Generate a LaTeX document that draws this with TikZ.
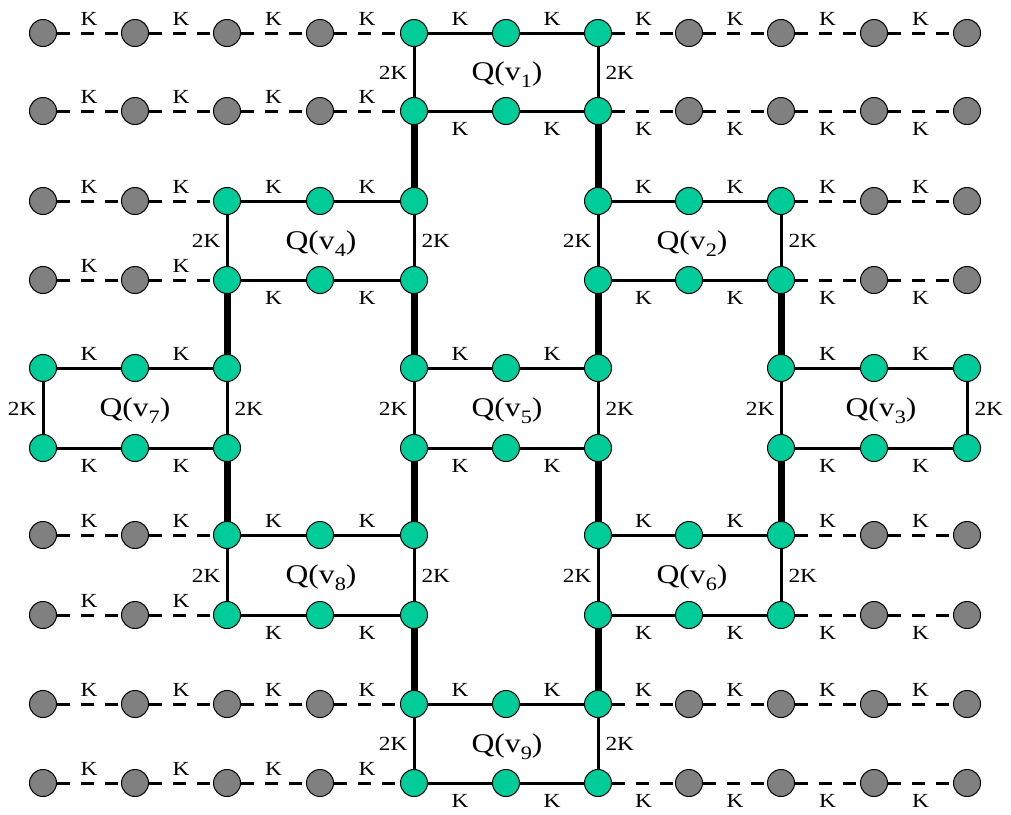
\documentclass[tikz,border=0pt]{standalone}
\usepackage{fontspec}
\setmainfont{Liberation Serif}
\usepackage{graphicx}
\usetikzlibrary{backgrounds}
\definecolor{qgreen}{RGB}{0,204,153}
\definecolor{dgray}{RGB}{128,128,128}
\newcommand\widetext[1]{\scalebox{1.17}[1]{#1}}
\newcommand\qtext[1]{\widetext{Q(v\raisebox{-7pt}{\fontsize{19}{19}\selectfont #1})}}
\begin{document}
\begin{tikzpicture}[x=1pt,y=-1pt,
  vtx/.style={circle, draw=black, line width=1pt, minimum size=27pt, inner sep=0pt},
  gv/.style={vtx, fill=qgreen},
  yv/.style={vtx, fill=dgray},
  sedge/.style={line width=3pt},
  dedge/.style={line width=3pt, dash pattern=on 13pt off 11pt},
  tedge/.style={line width=7pt},
  kfont/.style={font=\fontsize{20}{24}\selectfont, inner sep=0pt},
  kup/.style={kfont, midway, anchor=base, yshift=8pt},
  kdn/.style={kfont, midway, anchor=base, yshift=-24.5pt},
  kl/.style={kfont, midway, anchor=base east, xshift=-5pt, yshift=-7pt},
  kr/.style={kfont, midway, anchor=base west, xshift=6pt, yshift=-7pt},
  qlab/.style={font=\fontsize{27}{30}\selectfont, inner sep=0pt, anchor=base},
]
\useasboundingbox (0,0) rectangle (1011,814);
% grid positions
\foreach \r/\y in {0/33,1/111,2/201,3/280,4/368,5/448,6/535,7/615,8/704,9/783}
  \foreach \c/\x in {0/43,1/135,2/227,3/320,4/414,5/506,6/598,7/689,8/781,9/874,10/967}
    \coordinate (p\r-\c) at (\x,\y);
% vertices
\foreach \r in {0,1,8,9} {
  \foreach \c in {0,1,2,3,7,8,9,10} \node[yv] (n\r-\c) at (p\r-\c) {};
  \foreach \c in {4,5,6} \node[gv] (n\r-\c) at (p\r-\c) {};
}
\foreach \r in {2,3,6,7} {
  \foreach \c in {0,1,9,10} \node[yv] (n\r-\c) at (p\r-\c) {};
  \foreach \c in {2,3,4,6,7,8} \node[gv] (n\r-\c) at (p\r-\c) {};
}
\foreach \r in {4,5} {
  \foreach \c in {0,1,2,4,5,6,8,9,10} \node[gv] (n\r-\c) at (p\r-\c) {};
}
\begin{pgfonlayer}{background}
\fill[white] (0,0) rectangle (1011,814);
% horizontal edges, rows 0,1,8,9
\foreach \r/\pa/\pb in {0/kup/kup,8/kup/kup,1/kup/kdn,9/kup/kdn} {
  \foreach \a/\b in {0/1,1/2,2/3,3/4}
    \draw[dedge] (n\r-\a) -- (n\r-\b) node[\pa] {\widetext{K}};
  \foreach \a/\b in {4/5,5/6}
    \draw[sedge] (n\r-\a.center) -- (n\r-\b.center) node[\pb] {\widetext{K}};
  \foreach \a/\b in {6/7,7/8,8/9,9/10}
    \draw[dedge] (n\r-\a) -- (n\r-\b) node[\pb] {\widetext{K}};
}
% rows 2,3,6,7
\foreach \r/\pb in {2/kup,6/kup,3/kdn,7/kdn} {
  \foreach \a/\b in {0/1,1/2}
    \draw[dedge] (n\r-\a) -- (n\r-\b) node[kup] {\widetext{K}};
  \foreach \a/\b in {2/3,3/4,6/7,7/8}
    \draw[sedge] (n\r-\a.center) -- (n\r-\b.center) node[\pb] {\widetext{K}};
  \foreach \a/\b in {8/9,9/10}
    \draw[dedge] (n\r-\a) -- (n\r-\b) node[\pb] {\widetext{K}};
}
% rows 4,5
\foreach \r/\pb in {4/kup,5/kdn}
  \foreach \a/\b in {0/1,1/2,4/5,5/6,8/9,9/10}
    \draw[sedge] (n\r-\a.center) -- (n\r-\b.center) node[\pb] {\widetext{K}};
% vertical 2K edges
\foreach \r/\rb/\c/\p in {0/1/4/kl,0/1/6/kr,2/3/2/kl,2/3/4/kr,2/3/6/kl,2/3/8/kr,
    4/5/0/kl,4/5/2/kr,4/5/4/kl,4/5/6/kr,4/5/8/kl,4/5/10/kr,
    6/7/2/kl,6/7/4/kr,6/7/6/kl,6/7/8/kr,8/9/4/kl,8/9/6/kr}
  \draw[sedge] (n\r-\c.center) -- (n\rb-\c.center) node[\p] {\widetext{2K}};
% thick links
\foreach \r/\rb/\c in {1/2/4,1/2/6,3/4/2,3/4/4,3/4/6,3/4/8,5/6/2,5/6/4,5/6/6,5/6/8,7/8/4,7/8/6}
  \draw[tedge] (n\r-\c.center) -- (n\rb-\c.center);
\end{pgfonlayer}
% cluster labels
\node[qlab] (q1) at (507,80) {\qtext{1}};
\node[qlab] (q4) at (321,249) {\qtext{4}};
\node[qlab] (q2) at (692,249) {\qtext{2}};
\node[qlab] (q7) at (135,416) {\qtext{7}};
\node[qlab] (q5) at (507,416) {\qtext{5}};
\node[qlab] (q3) at (881,416) {\qtext{3}};
\node[qlab] (q8) at (321,583) {\qtext{8}};
\node[qlab] (q6) at (692,583) {\qtext{6}};
\node[qlab] (q9) at (507,752) {\qtext{9}};
\end{tikzpicture}
\end{document}
